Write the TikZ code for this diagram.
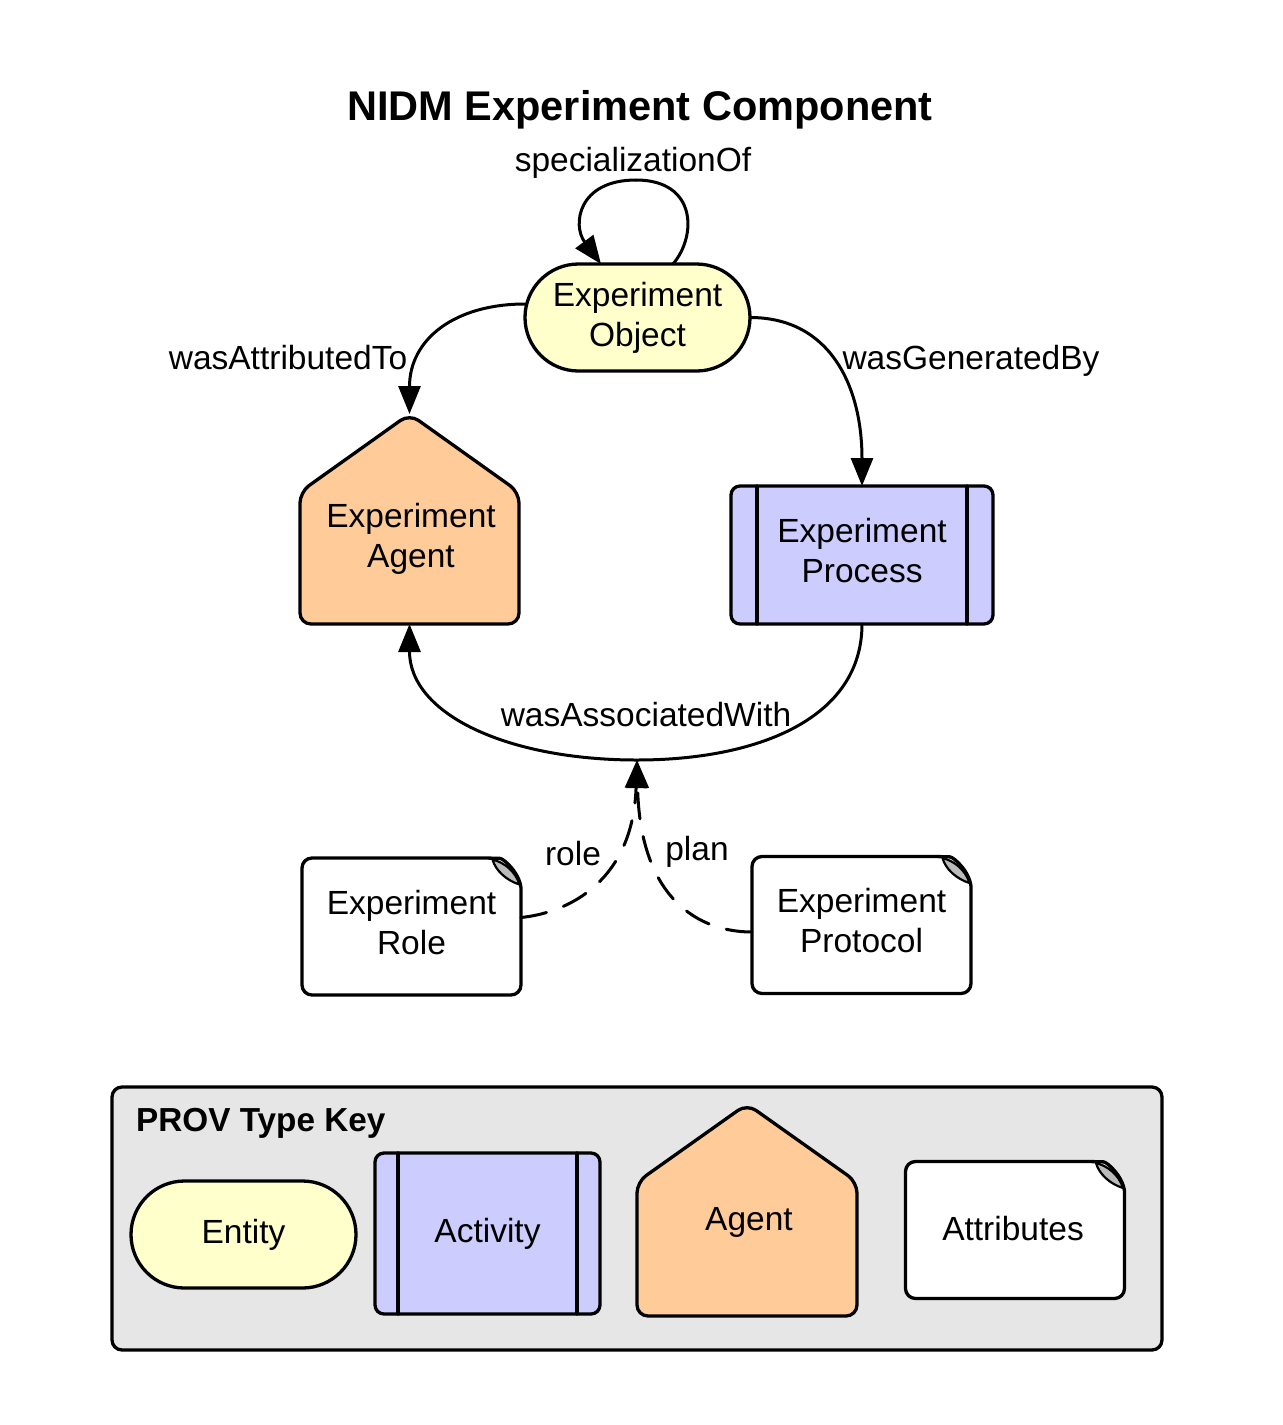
\documentclass[tikz,border=0pt]{standalone}
\usepackage{fontspec}
\setmainfont{Liberation Sans}
\usetikzlibrary{arrows.meta,shapes.misc}
\definecolor{entc}{HTML}{FFFFCC}
\definecolor{agc}{HTML}{FFCC99}
\definecolor{actc}{HTML}{CCCCFF}
\definecolor{keyc}{HTML}{E6E6E6}
\definecolor{leafc}{HTML}{BBBBBB}
\newcommand{\txtfont}{\fontsize{33.5}{40}\selectfont}
\newcommand{\titlefont}{\fontsize{41.5}{50}\selectfont\bfseries}
\newcommand{\keyfont}{\fontsize{33.3}{40}\selectfont\bfseries}
% note outline drawn around a named base node
\newcommand{\notedraw}[1]{%
  \begin{scope}[shift={(#1.center)}]
    \draw[shapeline, fill=white, rounded corners=10pt]
      (109.5,-38.5) -- (109.5,68.5) -- (-109.5,68.5) -- (-109.5,-68.5) -- (78.5,-68.5)
      [sharp corners] .. controls (92,-68) and (108,-54) .. (109.5,-38.5);
    \draw[line width=2.2pt, fill=leafc]
      (81,-67) .. controls (84,-56) and (95,-46) .. (108,-42)
      .. controls (104,-55) and (93,-64) .. cycle;
  \end{scope}}
% vertical bars of an activity box
\newcommand{\actbars}[2]{%
  \draw[shapeline] ([xshift=#2]#1.north west) -- ([xshift=#2]#1.south west);
  \draw[shapeline] ([xshift=-#2]#1.north east) -- ([xshift=-#2]#1.south east);}
% house outline of an agent
\newcommand{\agentdraw}[1]{%
  \draw[shapeline, fill=agc, rounded corners=11pt]
    (#1.south) -- (#1.south west) -- ([yshift=-78pt]#1.north west) -- (#1.north)
    -- ([yshift=-78pt]#1.north east) -- (#1.south east) -- cycle;}
\begin{document}
\begin{tikzpicture}[x=1pt,y=-1pt, line cap=round, line join=round,
  shapeline/.style={draw=black, line width=3.3pt},
  base/.style={rectangle, inner sep=0pt, outer sep=0pt},
  txt/.style={inner sep=0pt, align=center, font=\txtfont},
  entbox/.style={base, shapeline, fill=entc, rounded rectangle, align=center, font=\txtfont,
                 minimum width=225pt, minimum height=107pt},
  actbox/.style={base, shapeline, fill=actc, rounded corners=9pt, align=center, font=\txtfont},
  conn/.style={line width=3pt, -{Triangle[length=28pt,width=22pt]}},
  dconn/.style={conn, dash pattern=on 26pt off 18pt}]
\useasboundingbox (0,0) rectangle (1283,1425);

% title
\node[inner sep=0pt, font=\titlefont] (title) at (640,110) {NIDM Experiment Component};

% main shapes
\node[entbox] (obj) at (637.5,317.5) {Experiment\\Object};

\node[base, minimum width=219pt, minimum height=210pt] (agent) at (409.5,519) {};
\agentdraw{agent}
\node[txt] (agentT) at (411,539) {Experiment\\Agent};

\node[actbox, minimum width=262pt, minimum height=138pt] (act) at (862,555) {};
\actbars{act}{26pt}
\node[txt] (actT) at (862,551) {Experiment\\Process};

\node[base, minimum width=219pt, minimum height=137pt] (role) at (411.5,926.5) {};
\notedraw{role}
\node[txt] (roleT) at (411.5,923) {Experiment\\Role};

\node[base, minimum width=219pt, minimum height=137pt] (proto) at (861.5,925) {};
\notedraw{proto}
\node[txt] (protoT) at (861.5,921) {Experiment\\Protocol};

% connectors
\coordinate (loopTop) at (636,180);
\draw[line width=3pt] ([xshift=35.5pt]obj.north) .. controls +(24,-28) and +(61,0) .. (loopTop);
\draw[conn] (loopTop) .. controls +(-58,0) and +(-29,-39) .. ([xshift=-36.5pt]obj.north);
\node[txt] (specL) at (633,163) {specializationOf};

\draw[conn] ([yshift=13.5pt]obj.west) .. controls +(-70,0) and +(0,-75) .. (agent.north);
\node[txt] (attrL) at (288,358) {wasAttributedTo};

\draw[conn] (obj.east) .. controls +(80,0) and +(0,-100) .. (act.north);
\node[txt] (genL) at (971,361) {wasGeneratedBy};

\coordinate (assoc) at (637,760);
\draw[conn] (act.south) .. controls +(0,95) and +(120,0) .. (assoc)
  .. controls +(-130,0) and +(0,90) .. (agent.south);
\node[txt] (assocL) at (646,715) {wasAssociatedWith};

\draw[dconn] ([yshift=9pt]role.east) .. controls +(49,-5) and +(-4,120) .. (assoc);
\node[txt] (roleL) at (573,854) {role};
\draw[dconn] ([yshift=-7pt]proto.west) .. controls +(-52,0) and +(3,140) .. (assoc);
\node[txt] (planL) at (697,852) {plan};

% key
\node[base, shapeline, fill=keyc, rounded corners=10pt, minimum width=1050pt, minimum height=263pt] (key) at (637,1218.5) {};
\node[inner sep=0pt, anchor=west, font=\keyfont] (keyT) at (136,1123) {PROV Type Key};

\node[entbox] (lent) at (243.5,1234.5) {Entity};

\node[actbox, minimum width=225pt, minimum height=161pt] (lact) at (487.5,1233.5) {Activity};
\actbars{lact}{23pt}

\node[base, minimum width=220pt, minimum height=212pt] (lag) at (747,1210) {};
\agentdraw{lag}
\node[txt] (lagT) at (749,1222) {Agent};

\node[base, minimum width=219pt, minimum height=137pt] (lattr) at (1015,1230) {};
\notedraw{lattr}
\node[txt] (lattrT) at (1013,1229) {Attributes};
\end{tikzpicture}
\end{document}
